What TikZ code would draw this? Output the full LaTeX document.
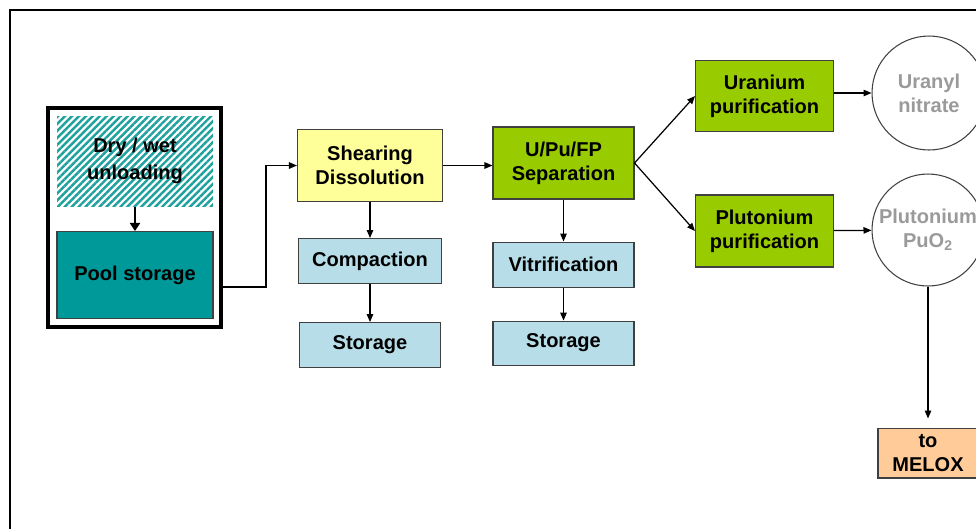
\documentclass[tikz,border=0pt]{standalone}
\usepackage{fontspec}
\setmainfont{Liberation Sans}
\usepackage{xcolor}
\usetikzlibrary{shapes, arrows.meta, positioning, patterns.meta}

\definecolor{poolteal}{HTML}{009999}
\definecolor{hatchteal}{HTML}{1FA19D}
\definecolor{shearyel}{HTML}{FFFF99}
\definecolor{wasteblue}{HTML}{B7DEE8}
\definecolor{sepgreen}{HTML}{99CC00}
\definecolor{meloxor}{HTML}{FFCC99}
\definecolor{prodgray}{HTML}{9A9A9A}

\begin{document}
\begin{tikzpicture}[
      x=0.02cm, y=-0.02cm,
      every node/.style={font=\fontsize{11.4}{13.7}\selectfont\bfseries,
        align=center, inner sep=0pt},
      box/.style = {shape=rectangle, draw=black!75, line width=0.6pt},
      poolframe/.style = {shape=rectangle, draw=black, line width=2.2pt,
        minimum width=3.46cm, minimum height=4.38cm},
      unloadbox/.style = {shape=rectangle,
        pattern={Lines[angle=45, distance=2.8pt, line width=1.4pt]},
        pattern color=hatchteal,
        minimum width=3.12cm, minimum height=1.8cm},
      pool/.style = {box, fill=poolteal, minimum width=3.12cm, minimum height=1.74cm},
      shear/.style = {box, fill=shearyel, minimum width=2.9cm, minimum height=1.44cm},
      waste/.style = {box, fill=wasteblue, minimum width=2.82cm, minimum height=0.9cm},
      purif/.style = {box, fill=sepgreen, minimum width=2.82cm, minimum height=1.44cm},
      product/.style = {shape=circle, draw=black!75, line width=0.6pt,
        text=prodgray},
      melox/.style = {box, fill=meloxor, minimum width=2cm, minimum height=1cm},
      arr/.style = {-{Triangle[length=1.6mm, width=1.3mm]}, line width=0.7pt},
      thickarr/.style = {-{Triangle[length=1.6mm, width=2mm]}, line width=1.2pt}
    ]
        \useasboundingbox (0,0) rectangle (976,529);
        \clip (0,0) rectangle (976,529);
        \draw[line width=1.4pt] (10,529) -- (10,10) -- (976,10);

        % reception and pool
        \node[poolframe] (frame) at (134.5,217.5) {};
        \node[unloadbox] (unload) at (135,161) {Dry / wet\\[0.05cm]unloading};
        \node[pool] (pool) at (135,275) {Pool storage};

        % head end and separation
        \node[shear] (shear) at (370,165.5) {Shearing\\Dissolution};
        \node[waste, minimum width=2.86cm, below=0.72cm of shear] (compact) {Compaction};
        \node[waste, below=0.76cm of compact] (store1) {Storage};

        \node[purif] (separ) at (563.5,163) {U/Pu/FP\\Separation};
        \node[waste, below=0.84cm of separ] (vitri) {Vitrification};
        \node[waste, minimum height=0.88cm, below=0.66cm of vitri] (store2) {Storage};

        \node[purif, minimum width=2.76cm, minimum height=1.42cm] (uran) at (764.5,96) {Uranium\\purification};
        \node[purif, minimum width=2.76cm] (pluto) at (764.5,231) {Plutonium\\purification};

        \node[product, minimum size=2.28cm] (uranyl) at (929,93) {Uranyl\\nitrate};
        \node[product, minimum size=2.24cm] (puo) at (928,230) {Plutonium\\PuO\textsubscript{2}};
        \node[melox, below=2.82cm of puo] (melox) {to\\MELOX};

        \coordinate (poolout) at (223,287);

        \draw[thickarr] (unload) -- (pool);
        \draw[arr] (poolout) -- ++(43,0) |- (shear);
        \draw[arr] (shear.east) -- (shear.east -| separ.west);
        \draw[arr] (shear) -- (compact);
        \draw[arr] (compact) -- (store1);
        \draw[arr] (separ) -- (vitri);
        \draw[arr] (vitri) -- (store2);
        \draw[arr] (separ.east) -- (uran.west);
        \draw[arr] (separ.east) -- (pluto.west);
        \draw[arr] (uran.east |- uranyl) -- (uranyl.west);
        \draw[arr] (pluto) -- (puo);
        \draw[arr, shorten >=1.8mm] (puo.south) -- (melox.north);
    \end{tikzpicture}
\end{document}
